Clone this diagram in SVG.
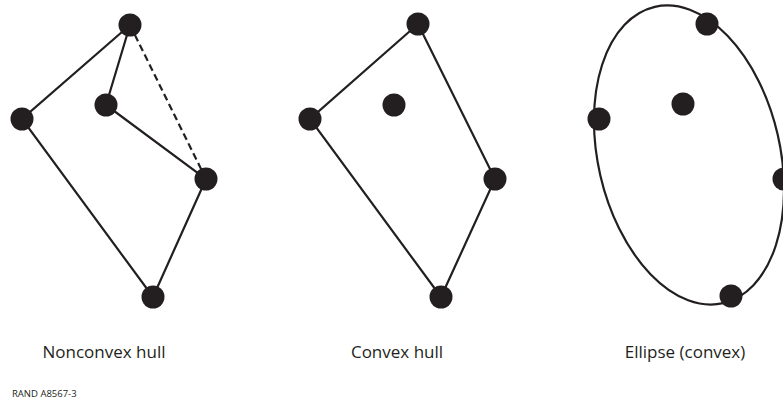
<svg xmlns="http://www.w3.org/2000/svg" width="783" height="404" viewBox="0 0 783 404">
<style>
.e{stroke:#231f20;stroke-width:2.2;fill:none}
.d{stroke-dasharray:7 4}
.n{fill:#231f20}
.t{font-family:"Open Sans","Liberation Sans",sans-serif;font-size:17px;fill:#231f20;text-anchor:middle}
.s{font-family:"Open Sans","Liberation Sans",sans-serif;font-size:9.5px;fill:#231f20}
</style>
<rect width="783" height="404" fill="#fff"/>
<g id="connectors">
<polyline class="e" points="130,25 22,119 153,297 206,179 106,105 130,25"/>
<line class="e d" x1="130" y1="25" x2="206" y2="179"/>
<polygon class="e" points="418,24 310,119 441,297 495,179"/>
<ellipse class="e" cx="689" cy="155" rx="91" ry="152" transform="rotate(-13 689 155)"/>
</g>
<g id="n1a"><circle class="n" cx="130" cy="25" r="11.5"/></g>
<g id="n1b"><circle class="n" cx="22" cy="119" r="11.5"/></g>
<g id="n1c"><circle class="n" cx="106" cy="105" r="11.5"/></g>
<g id="n1d"><circle class="n" cx="206" cy="179" r="11.5"/></g>
<g id="n1e"><circle class="n" cx="153" cy="297" r="11.5"/></g>
<g id="n2a"><circle class="n" cx="418" cy="24" r="11.5"/></g>
<g id="n2b"><circle class="n" cx="310" cy="119" r="11.5"/></g>
<g id="n2c"><circle class="n" cx="394" cy="105" r="11.5"/></g>
<g id="n2d"><circle class="n" cx="495" cy="179" r="11.5"/></g>
<g id="n2e"><circle class="n" cx="441" cy="297" r="11.5"/></g>
<g id="n3a"><circle class="n" cx="707" cy="24" r="11.5"/></g>
<g id="n3b"><circle class="n" cx="599" cy="119" r="11.5"/></g>
<g id="n3c"><circle class="n" cx="683" cy="104" r="11.5"/></g>
<g id="n3d"><circle class="n" cx="784" cy="179" r="11.5"/></g>
<g id="n3e"><circle class="n" cx="731" cy="296" r="11.5"/></g>
<g id="labels">
<text class="t" x="104" y="358">Nonconvex hull</text>
<text class="t" x="397" y="358">Convex hull</text>
<text class="t" x="685" y="358">Ellipse (convex)</text>
<text class="s" x="12" y="397">RAND  A8567-3</text>
</g>
</svg>
